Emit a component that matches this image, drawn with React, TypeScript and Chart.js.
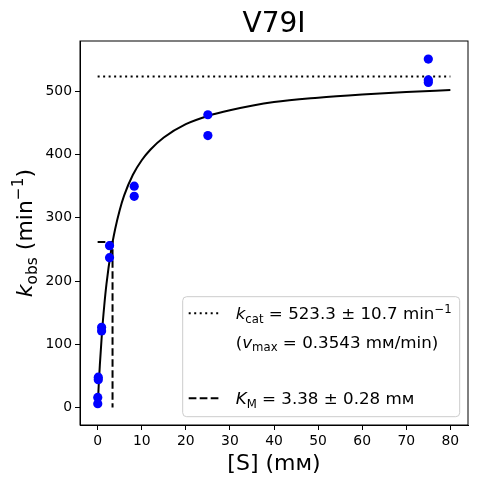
import React, { useEffect, useRef } from "react";
import { Chart, registerables } from "chart.js";

Chart.register(...registerables);

// measured points
const substrateMM = [0.03, 0.03, 0.15, 0.15, 0.9, 0.9, 2.7, 2.7, 8.3, 8.3, 25, 25, 75, 75, 75];
const kobsValues = [6, 16, 44, 48, 121, 127, 237, 256, 334, 350, 430, 463, 514, 518, 551];

// Michaelis-Menten fit curve
const fitX = [0, 0.25, 0.5, 1, 1.5, 2, 3, 4, 5, 6, 8, 10, 12, 15, 20, 25, 30, 40, 50, 60, 70, 80];
const fitY = [0, 36, 67, 120, 161, 195, 246, 283, 312, 335, 368, 391, 408, 427, 448, 461, 470, 483, 490, 495, 499, 502];

// kcat level and Km marker
const kcatX = [0, 80];
const kcatY = [523.3, 523.3];
const kmX = [0, 3.38, 3.38];
const kmY = [261.65, 261.65, 0];

const xTicks = [0, 10, 20, 30, 40, 50, 60, 70, 80];
const yTicks = [0, 100, 200, 300, 400, 500];

const FAMILY = "'DejaVu Sans', sans-serif";

type Seg = { t: string; k?: "i" | "sub" | "sup" };

function drawRich(
  ctx: CanvasRenderingContext2D,
  segs: Seg[],
  x: number,
  y: number,
  size: number,
  align: "left" | "center"
) {
  const fontOf = (s: Seg) => {
    const small = s.k === "sub" || s.k === "sup";
    const sz = small ? size * 0.7 : size;
    return `${s.k === "i" ? "italic " : ""}${sz}px ${FAMILY}`;
  };
  let total = 0;
  const widths = segs.map((s) => {
    ctx.font = fontOf(s);
    const w = ctx.measureText(s.t).width;
    total += w;
    return w;
  });
  let cx = align === "center" ? x - total / 2 : x;
  ctx.textAlign = "left";
  ctx.textBaseline = "alphabetic";
  ctx.fillStyle = "#000";
  segs.forEach((s, i) => {
    ctx.font = fontOf(s);
    let dy = 0;
    if (s.k === "sub") dy = size * 0.22;
    if (s.k === "sup") dy = -size * 0.4;
    ctx.fillText(s.t, cx, y + dy);
    cx += widths[i];
  });
}

const textPlugin = {
  id: "textPlugin",
  afterDraw(chart: Chart) {
    const ctx = chart.ctx;
    const ca = chart.chartArea;
    ctx.save();

    // frame
    ctx.strokeStyle = "#000";
    ctx.lineWidth = 1;
    ctx.strokeRect(ca.left, ca.top, ca.right - ca.left, ca.bottom - ca.top);

    const cx = (ca.left + ca.right) / 2;
    drawRich(ctx, [{ t: "V79I" }], cx, 32, 28, "center");
    drawRich(ctx, [{ t: "[S] (mᴍ)" }], cx, 470, 22, "center");

    ctx.save();
    ctx.translate(32, (ca.top + ca.bottom) / 2);
    ctx.rotate(-Math.PI / 2);
    drawRich(
      ctx,
      [{ t: "k", k: "i" }, { t: "obs", k: "sub" }, { t: " (min" }, { t: "−1", k: "sup" }, { t: ")" }],
      0,
      0,
      22,
      "center"
    );
    ctx.restore();

    // legend
    const bw = 277;
    const bh = 120;
    const bx = ca.right - 8.3 - bw;
    const by = ca.bottom - 8.3 - bh;
    ctx.beginPath();
    ctx.roundRect(bx, by, bw, bh, 4);
    ctx.fillStyle = "rgba(255,255,255,0.8)";
    ctx.fill();
    ctx.strokeStyle = "#cccccc";
    ctx.lineWidth = 1;
    ctx.stroke();

    const hx0 = bx + 6;
    const hx1 = bx + 38;
    const tx = bx + 53;
    ctx.strokeStyle = "#000";
    ctx.lineWidth = 2;
    ctx.lineCap = "butt";
    ctx.setLineDash([2, 3.5]);
    ctx.beginPath();
    ctx.moveTo(hx0, by + 16.5);
    ctx.lineTo(hx1, by + 16.5);
    ctx.stroke();
    ctx.setLineDash([7.7, 3.3]);
    ctx.beginPath();
    ctx.moveTo(hx0, by + 101.5);
    ctx.lineTo(hx1, by + 101.5);
    ctx.stroke();
    ctx.setLineDash([]);

    const fs = 16.7;
    drawRich(
      ctx,
      [{ t: "k", k: "i" }, { t: "cat", k: "sub" }, { t: " = 523.3 ± 10.7 min" }, { t: "−1", k: "sup" }],
      tx,
      by + 22.5,
      fs,
      "left"
    );
    drawRich(
      ctx,
      [{ t: "(" }, { t: "v", k: "i" }, { t: "max", k: "sub" }, { t: " = 0.3543 mᴍ/min)" }],
      tx,
      by + 51,
      fs,
      "left"
    );
    drawRich(
      ctx,
      [{ t: "K", k: "i" }, { t: "M", k: "sub" }, { t: " = 3.38 ± 0.28 mᴍ" }],
      tx,
      by + 107.5,
      fs,
      "left"
    );

    ctx.restore();
  },
};

const pairs = (xs: number[], ys: number[]) => xs.map((x, i) => ({ x, y: ys[i] }));

const axisCommon = {
  type: "linear" as const,
  grid: { drawOnChartArea: false, drawTicks: true, tickLength: 5, color: "#000", tickWidth: 1 },
  border: { display: true, color: "#000", width: 1 },
  ticks: {
    color: "#000",
    font: { family: FAMILY, size: 13.9 },
    padding: 3,
    maxRotation: 0,
    autoSkip: false,
  },
};

const App: React.FC = () => {
  const canvasRef = useRef<HTMLCanvasElement | null>(null);
  const chartRef = useRef<Chart | null>(null);

  useEffect(() => {
    document.body.style.margin = "0";
    if (chartRef.current) chartRef.current.destroy();
    if (!canvasRef.current) return;

    chartRef.current = new Chart(canvasRef.current, {
      type: "scatter",
      data: {
        datasets: [
          {
            label: "data",
            data: pairs(substrateMM, kobsValues),
            backgroundColor: "#0000ff",
            borderColor: "#0000ff",
            borderWidth: 0,
            pointRadius: 4.6,
            order: 0,
          },
          {
            label: "fit",
            data: pairs(fitX, fitY),
            showLine: true,
            borderColor: "#000",
            borderWidth: 2,
            pointRadius: 0,
            cubicInterpolationMode: "monotone",
            fill: false,
            order: 1,
          },
          {
            label: "kcat",
            data: pairs(kcatX, kcatY),
            showLine: true,
            borderColor: "#000",
            borderWidth: 2,
            borderDash: [2, 3.5],
            pointRadius: 0,
            fill: false,
            order: 2,
          },
          {
            label: "Km",
            data: pairs(kmX, kmY),
            showLine: true,
            borderColor: "#000",
            borderWidth: 2,
            borderDash: [7.7, 3.3],
            pointRadius: 0,
            fill: false,
            order: 3,
          },
        ],
      },
      options: {
        responsive: false,
        animation: false,
        events: [],
        layout: { padding: { top: 41, right: 9, left: 0, bottom: 0 } },
        plugins: {
          legend: { display: false },
          title: { display: false },
          tooltip: { enabled: false },
        },
        scales: {
          x: {
            ...axisCommon,
            min: -4,
            max: 84,
            afterBuildTicks: (s: any) => {
              s.ticks = xTicks.map((v) => ({ value: v }));
            },
            afterFit: (s: any) => {
              s.height = 59;
            },
          },
          y: {
            ...axisCommon,
            min: -27.6,
            max: 579.6,
            afterBuildTicks: (s: any) => {
              s.ticks = yTicks.map((v) => ({ value: v }));
            },
            afterFit: (s: any) => {
              s.width = 80;
            },
          },
        },
      },
      plugins: [textPlugin],
    });

    return () => {
      if (chartRef.current) {
        chartRef.current.destroy();
        chartRef.current = null;
      }
    };
  }, []);

  return <canvas ref={canvasRef} width={477} height={484} style={{ display: "block" }}></canvas>;
};

export default App;
